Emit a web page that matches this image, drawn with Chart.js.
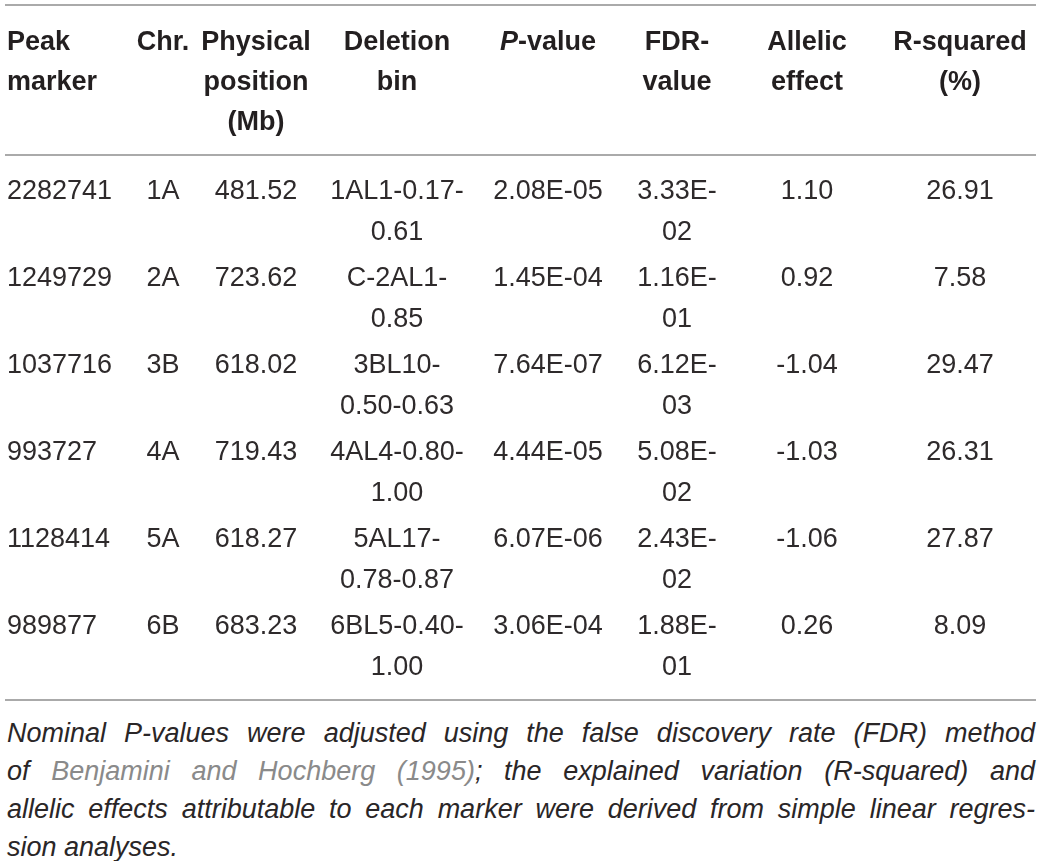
<!DOCTYPE html>
<html>
<head>
<meta charset="utf-8">
<script src="https://cdn.jsdelivr.net/npm/chart.js@4.4.1/dist/chart.umd.min.js"></script>
<style>
  body { margin: 0; background: #fff; width: 1041px; height: 861px; overflow: hidden; position: relative; }
  #tableChart { position: absolute; left: 0; top: 0; }
  #note {
    position: absolute; left: 7px; top: 714px; width: 1028px;
    font-family: "Liberation Sans", Arial, sans-serif;
    font-style: italic; font-size: 27px; line-height: 38px; color: #2a2627;
  }
  #note span.line { display: block; text-align: justify; text-align-last: justify; white-space: nowrap; }
  #note span.last { text-align-last: left; }
  #note .cite { color: #8a8a8a; }
</style>
</head>
<body>
<canvas id="tableChart" width="1041" height="705"></canvas>
<div id="note">
  <span class="line">Nominal P-values were adjusted using the false discovery rate (FDR) method</span>
  <span class="line">of <span class="cite">Benjamini and Hochberg (1995)</span>; the explained variation (R-squared) and</span>
  <span class="line">allelic effects attributable to each marker were derived from simple linear regres-</span>
  <span class="line last">sion analyses.</span>
</div>
<script>
// table values, one array per column
const peakMarkers = ["2282741", "1249729", "1037716", "993727", "1128414", "989877"];
const chromosomes = ["1A", "2A", "3B", "4A", "5A", "6B"];
const physicalPositions = [481.52, 723.62, 618.02, 719.43, 618.27, 683.23];
const deletionBins = ["1AL1-0.17-0.61", "C-2AL1-0.85", "3BL10-0.50-0.63", "4AL4-0.80-1.00", "5AL17-0.78-0.87", "6BL5-0.40-1.00"];
const pValues = ["2.08E-05", "1.45E-04", "7.64E-07", "4.44E-05", "6.07E-06", "3.06E-04"];
const fdrValues = ["3.33E-02", "1.16E-01", "6.12E-03", "5.08E-02", "2.43E-02", "1.88E-01"];
const allelicEffects = [1.10, 0.92, -1.04, -1.03, -1.06, 0.26];
const rSquared = [26.91, 7.58, 29.47, 26.31, 27.87, 8.09];

const headers = [
  ["Peak", "marker"],
  ["Chr."],
  ["Physical", "position", "(Mb)"],
  ["Deletion", "bin"],
  ["P-value"],
  ["FDR-", "value"],
  ["Allelic", "effect"],
  ["R-squared", "(%)"]
];

// layout of the columns (x along the page) and how wide a cell may get before wrapping
const colX = [7, 163, 256, 397, 548, 677, 807, 960];
const colAlign = ["left", "center", "center", "center", "center", "center", "center", "center"];
const colMaxW = [200, 200, 200, 142, 200, 95, 200, 200];

const fmt2 = v => v.toFixed(2);
const columns = [
  peakMarkers,
  chromosomes,
  physicalPositions.map(fmt2),
  deletionBins,
  pValues,
  fdrValues,
  allelicEffects.map(fmt2),
  rSquared.map(fmt2)
];

const ink = "#231f20";
const bodyFont = '27px "Liberation Sans", Arial, sans-serif';
const headFont = 'bold 27px "Liberation Sans", Arial, sans-serif';
const headItalic = 'italic bold 27px "Liberation Sans", Arial, sans-serif';

// break a cell after a hyphen when it is too wide
function wrap(ctx, text, maxW) {
  if (ctx.measureText(text).width <= maxW) return [text];
  let cut = -1;
  for (let i = 0; i < text.length - 1; i++) {
    if (text[i] === "-" && ctx.measureText(text.slice(0, i + 1)).width <= maxW) cut = i;
  }
  if (cut < 0) return [text];
  return [text.slice(0, cut + 1), text.slice(cut + 1)];
}

const tablePlugin = {
  id: "tableText",
  afterDatasetsDraw(chart) {
    const ctx = chart.ctx;
    const xs = chart.scales.x;
    const area = chart.chartArea;
    ctx.save();

    // rules
    ctx.strokeStyle = "#8e8e8e";
    ctx.lineWidth = 1.5;
    [5, area.top, chart.height - 5].forEach(y => {
      ctx.beginPath();
      ctx.moveTo(5, y);
      ctx.lineTo(1036, y);
      ctx.stroke();
    });

    // header
    ctx.fillStyle = ink;
    ctx.textBaseline = "middle";
    headers.forEach((lines, c) => {
      const x = xs.getPixelForValue(colX[c]);
      lines.forEach((t, k) => {
        const y = 43 + k * 40;
        if (t === "P-value") {
          ctx.font = headItalic;
          const w1 = ctx.measureText("P").width;
          ctx.font = headFont;
          const w2 = ctx.measureText("-value").width;
          const x0 = x - (w1 + w2) / 2;
          ctx.textAlign = "left";
          ctx.font = headItalic;
          ctx.fillText("P", x0, y);
          ctx.font = headFont;
          ctx.fillText("-value", x0 + w1, y);
        } else {
          ctx.font = headFont;
          ctx.textAlign = colAlign[c];
          ctx.fillText(t, x, y);
        }
      });
    });

    // body cells, placed at the points the scales computed
    ctx.font = bodyFont;
    ctx.fillStyle = "#2e2a2b";
    chart.data.datasets.forEach((ds, c) => {
      const meta = chart.getDatasetMeta(c);
      ctx.textAlign = colAlign[c];
      meta.data.forEach((pt, r) => {
        const lines = wrap(ctx, columns[c][r], colMaxW[c]);
        lines.forEach((t, k) => ctx.fillText(t, pt.x, pt.y - 6.5 + k * 41));
      });
    });
    ctx.restore();
  }
};

new Chart(document.getElementById("tableChart"), {
  type: "scatter",
  data: {
    datasets: columns.map((col, c) => ({
      label: headers[c].join(" "),
      data: col.map((v, r) => ({ x: colX[c], y: peakMarkers[r] })),
      pointRadius: 0,
      pointHoverRadius: 0
    }))
  },
  options: {
    responsive: false,
    animation: false,
    events: [],
    layout: { padding: { top: 155, bottom: 28, left: 0, right: 0 } },
    plugins: { legend: { display: false }, tooltip: { enabled: false } },
    scales: {
      x: { type: "linear", min: 0, max: 1041, display: false },
      y: { type: "category", labels: peakMarkers, offset: true, display: false }
    }
  },
  plugins: [tablePlugin]
});
</script>
</body>
</html>
